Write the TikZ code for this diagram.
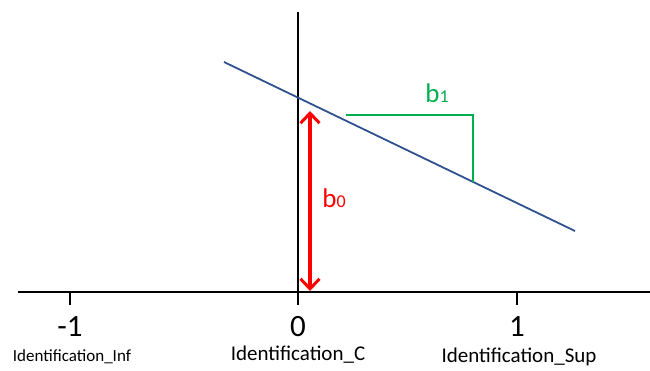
\documentclass[tikz,border=0pt]{standalone}
\usepackage{fontspec}
\setmainfont{Carlito}
\usetikzlibrary{arrows.meta}
\definecolor{lineblue}{RGB}{47,82,143}
\definecolor{slopegreen}{RGB}{0,176,80}
\begin{document}
\begin{tikzpicture}[x=1pt,y=-1pt,
  axis/.style={line width=1.3pt,black},
  tick/.style={line width=1.3pt,black},
  ticklabel/.style={font=\fontsize{31}{33}\selectfont,inner sep=0pt},
  namelabel/.style={font=\fontsize{21}{24}\selectfont,inner sep=0pt},
  coeflabel/.style={font=\fontsize{27}{30}\selectfont,inner sep=0pt},
  dblbarb/.style={>={Straight Barb[length=10pt,width=19pt,line width=3pt]},<->}]
\useasboundingbox (0,0) rectangle (650,371);
% axes
\coordinate (xl) at (18,292);
\coordinate (xr) at (650,292);
\coordinate (yt) at (298,12);
\coordinate (yb) at (298,292);
\draw[axis] (xl) -- (xr);
\draw[axis] (yt) -- (yb);
% ticks
\coordinate (t1a) at (70,292); \coordinate (t1b) at (70,305);
\coordinate (t0a) at (298,292); \coordinate (t0b) at (298,305);
\coordinate (t2a) at (517,292); \coordinate (t2b) at (517,305);
\draw[tick] (t1a) -- (t1b);
\draw[tick] (t0a) -- (t0b);
\draw[tick] (t2a) -- (t2b);
\node[ticklabel] (lm1) at (70,327) {-1};
\node[ticklabel] (l0) at (298,327) {0};
\node[ticklabel] (l1) at (517,327) {1};
\node[namelabel,font=\fontsize{17}{19}\selectfont] (ninf) at (72,357) {Identification\_Inf};
\node[namelabel] (nc) at (298,355) {Identification\_C};
\node[namelabel] (nsup) at (519,357) {Identification\_Sup};
% regression line
\coordinate (ls) at (224,62);
\coordinate (le) at (575,231);
\draw[lineblue,line width=1.8pt] (ls) -- (le);
% slope triangle
\coordinate (ga) at (346,115);
\coordinate (gb) at (473,115);
\coordinate (gc) at (473,182);
\draw[slopegreen,line width=1.8pt] (ga) -- (gb) -- (gc);
\node[coeflabel,text=slopegreen] (b1) at (437,93) {b{\fontsize{18}{20}\selectfont 1}};
% intercept arrow
\coordinate (aa) at (310,111);
\coordinate (ab) at (310,291);
\draw[red,line width=3.5pt,dblbarb] (aa) -- (ab);
\node[coeflabel,text=red] (b0) at (334,198) {b{\fontsize{18}{20}\selectfont 0}};
\end{tikzpicture}
\end{document}
